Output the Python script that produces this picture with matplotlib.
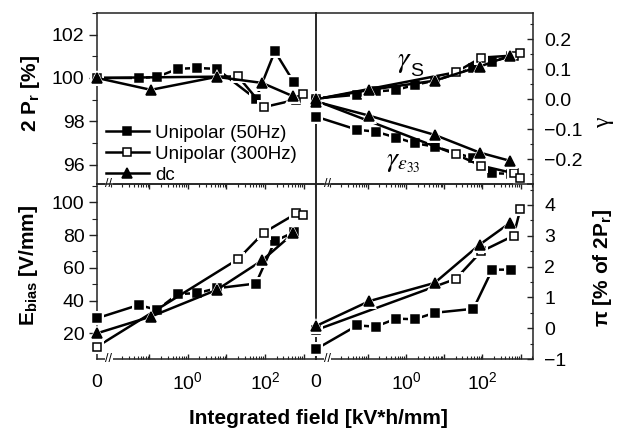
import numpy as np
import matplotlib
matplotlib.use('Agg')
import matplotlib.pyplot as plt
import matplotlib.transforms as mtransforms
from matplotlib.lines import Line2D
from matplotlib.ticker import FixedLocator, FuncFormatter, MultipleLocator

plt.rcParams['font.family'] = ['Liberation Sans', 'DejaVu Sans']
plt.rcParams['mathtext.fontset'] = 'custom'
plt.rcParams['mathtext.rm'] = 'Liberation Sans'
plt.rcParams['mathtext.it'] = 'Liberation Sans:italic'
plt.rcParams['mathtext.bf'] = 'Liberation Sans:bold'
plt.rcParams['mathtext.sf'] = 'Liberation Sans'

# integrated field [kV*h/mm], 0 = virgin state
x_50 = [0, 0.053, 0.16, 0.55, 1.7, 5.6, 58, 180, 560]
x_300 = [0, 20, 93, 650, 980]
x_dc = [0, 0.11, 5.6, 84, 540]

# 2 Pr [%]
pr_50 = [100.0, 100.0, 100.05, 100.42, 100.46, 100.42, 99.03, 101.23, 99.8]
pr_300 = [100.0, 100.07, 98.65, 99.0, 99.25]
pr_dc = [100.0, 99.45, 100.05, 99.77, 99.15]

# gamma_S and gamma_eps33
gs_50 = [0.003, 0.015, 0.026, 0.031, 0.048, 0.062, 0.104, 0.126, 0.143]
gs_300 = [0.0, 0.090, 0.139, 0.146, 0.154]
gs_dc = [0.0, 0.031, 0.062, 0.109, 0.146]
ge_50 = [-0.058, -0.102, -0.108, -0.128, -0.147, -0.158, -0.197, -0.247, -0.249]
ge_300 = [-0.005, -0.184, -0.222, -0.247, -0.262]
ge_dc = [-0.008, -0.055, -0.119, -0.178, -0.206]

# E_bias [V/mm]
eb_50 = [29.2, 37.3, 34.3, 44.0, 44.5, 47.5, 50.4, 76.3, 81.8]
eb_300 = [11.8, 65.3, 81.5, 93.2, 92.4]
eb_dc = [20.0, 30.2, 46.5, 64.5, 81.0]

# pi [% of 2Pr]
pi_50 = [-0.68, 0.09, 0.05, 0.31, 0.29, 0.50, 0.63, 1.90, 1.90]
pi_300 = [-0.06, 1.60, 2.49, 3.0, 3.86]
pi_dc = [0.07, 0.88, 1.47, 2.71, 3.43]

labels = ['Unipolar (50Hz)', 'Unipolar (300Hz)', 'dc']
styles = [dict(marker='s', ms=6, mfc='black'),
          dict(marker='s', ms=6, mfc='white'),
          dict(marker='^', ms=7.5, mfc='black')]

LW = 1.8
FS = 14

fig = plt.figure(figsize=(6.19, 4.33), dpi=100)
W, H = 619, 433


def px_axes(x0, y0, x1, y1):
    return fig.add_axes([x0 / W, 1 - y1 / H, (x1 - x0) / W, (y1 - y0) / H])


ax_pr = px_axes(97, 13, 316, 184)
ax_g = px_axes(316, 13, 533, 184)
ax_eb = px_axes(97, 184, 316, 359)
ax_pi = px_axes(316, 184, 533, 359)


def draw_series(ax, x, y, i, z0):
    st = styles[i]
    ax.plot(x, y, '-', color='black', lw=LW, zorder=z0, clip_on=False)
    # white halo so the line stops short of each symbol
    ax.plot(x, y, ls='none', marker=st['marker'], ms=st['ms'] + 4.5,
            mfc='white', mec='white', mew=0, zorder=z0 + 1, clip_on=False)
    ax.plot(x, y, ls='none', marker=st['marker'], ms=st['ms'],
            mfc=st['mfc'], mec='black', mew=1.1, zorder=z0 + 2, clip_on=False)


major_x = [0.1, 1, 10, 100, 1000]
minor_x = [k * 10.0 ** d for d in range(-2, 4) for k in range(1, 10)]
minor_x = [v for v in minor_x if v < 2100 and v not in major_x]


def xfmt(v, p):
    if abs(v - 1) < 1e-9:
        return r'$\mathregular{10^0}$'
    if abs(v - 100) < 1e-6:
        return r'$\mathregular{10^2}$'
    return ''


def setup_x(ax, is_bottom):
    ax.set_xscale('symlog', linthresh=0.01, linscale=0.32)
    ax.set_xlim(0, 2100)
    ax.xaxis.set_major_locator(FixedLocator(major_x))
    ax.xaxis.set_minor_locator(FixedLocator(minor_x))
    ax.set_facecolor('none')
    for s in ax.spines.values():
        s.set_linewidth(1.1)
        s.set_color('#222222')
    tr = mtransforms.blended_transform_factory(ax.transData, ax.transAxes)
    if is_bottom:
        ax.xaxis.set_major_formatter(FuncFormatter(xfmt))
        ax.tick_params(axis='x', which='both', direction='in', top=True, bottom=True,
                       labelsize=FS, pad=9, color='#222222')
        ax.tick_params(axis='x', which='major', length=3.5, width=1)
        ax.tick_params(axis='x', which='minor', length=2, width=0.8)
        # the "0" label at the left edge
        ax.text(0, -0.085, '0', transform=tr, ha='center', va='top', fontsize=FS)
    else:
        ax.tick_params(axis='x', which='both', bottom=False, top=False, labelbottom=False)
    # axis break mark
    ax.text(0.0085, 0, '//', transform=tr, ha='center', va='center', fontsize=9,
            bbox=dict(facecolor='white', edgecolor='none', pad=0.3), zorder=10, clip_on=False)


def setup_y(ax, right):
    if right:
        ax.yaxis.tick_right()
        ax.tick_params(axis='y', which='both', direction='in', left=False, right=True,
                       labelsize=FS, pad=8, color='#222222')
        ax.tick_params(axis='y', which='major', length=4.5, width=1)
        ax.tick_params(axis='y', which='minor', length=2.5, width=0.8)
    else:
        ax.tick_params(axis='y', which='both', direction='out', left=True, right=False,
                       labelsize=FS, pad=3, color='#222222')
        ax.tick_params(axis='y', which='major', length=6, width=1)
        ax.tick_params(axis='y', which='minor', length=3.5, width=0.8)


# top-left: 2 Pr
for i, (x, y) in enumerate([(x_50, pr_50), (x_300, pr_300), (x_dc, pr_dc)]):
    draw_series(ax_pr, x, y, i, 3 + 3 * i)
ax_pr.set_ylim(95.1, 103)
ax_pr.yaxis.set_major_locator(FixedLocator([96, 98, 100, 102]))
ax_pr.yaxis.set_minor_locator(MultipleLocator(1))
setup_x(ax_pr, False)
setup_y(ax_pr, False)

handles = [Line2D([], [], color='black', lw=LW, marker=st['marker'], ms=st['ms'],
                  mfc=st['mfc'], mec='black', mew=1.1) for st in styles]
leg = ax_pr.legend(handles, labels, loc='lower left', bbox_to_anchor=(0.04, 0.0),
                   frameon=False, fontsize=13.5, handlelength=2.3, handletextpad=0.35,
                   labelspacing=0.22, borderpad=0, borderaxespad=0, numpoints=1)
leg.set_zorder(20)

# top-right: gamma
for i, (x, y) in enumerate([(x_50, gs_50), (x_300, gs_300), (x_dc, gs_dc)]):
    draw_series(ax_g, x, y, i, 3 + 3 * i)
for i, (x, y) in enumerate([(x_50, ge_50), (x_300, ge_300), (x_dc, ge_dc)]):
    draw_series(ax_g, x, y, i, 3 + 3 * i)
ax_g.set_ylim(-0.283, 0.288)
ax_g.yaxis.set_major_locator(FixedLocator([-0.2, -0.1, 0.0, 0.1, 0.2]))
ax_g.yaxis.set_minor_locator(MultipleLocator(0.05))
ax_g.yaxis.set_major_formatter(FuncFormatter(lambda v, p: f'{v:.1f}'.replace('-', '\u2212')))
setup_x(ax_g, False)
setup_y(ax_g, True)
ax_g.text(0.405, 0.72, r'$\gamma$', transform=ax_g.transAxes, fontsize=21,
          math_fontfamily='stix', ha='center', va='center')
ax_g.text(0.462, 0.66, 'S', transform=ax_g.transAxes, fontsize=14,
          ha='center', va='center')
ax_g.text(0.40, 0.13, r'$\gamma_{\varepsilon_{33}}$', transform=ax_g.transAxes, fontsize=20,
          math_fontfamily='stix', ha='center', va='center')

# bottom-left: E_bias
for i, (x, y) in enumerate([(x_50, eb_50), (x_300, eb_300), (x_dc, eb_dc)]):
    draw_series(ax_eb, x, y, i, 3 + 3 * i)
ax_eb.set_ylim(4.3, 111.2)
ax_eb.yaxis.set_major_locator(FixedLocator([20, 40, 60, 80, 100]))
ax_eb.yaxis.set_minor_locator(MultipleLocator(10))
setup_x(ax_eb, True)
setup_y(ax_eb, False)

# bottom-right: pi
for i, (x, y) in enumerate([(x_50, pi_50), (x_300, pi_300), (x_dc, pi_dc)]):
    draw_series(ax_pi, x, y, i, 3 + 3 * i)
ax_pi.set_ylim(-1.0, 4.68)
ax_pi.yaxis.set_major_locator(FixedLocator([-1, 0, 1, 2, 3, 4]))
ax_pi.yaxis.set_minor_locator(MultipleLocator(0.5))
ax_pi.yaxis.set_major_formatter(FuncFormatter(lambda v, p: f'{v:.0f}'.replace('-', '\u2212')))
setup_x(ax_pi, True)
setup_y(ax_pi, True)

# axis titles
fig.text(30 / W, 1 - 94 / H, r'2 P$_\mathbf{r}$ [%]', rotation=90, ha='center', va='center',
         fontsize=15, fontweight='bold')
fig.text(28 / W, 1 - 265 / H, r'E$_\mathbf{bias}$ [V/mm]', rotation=90, ha='center', va='center',
         fontsize=15, fontweight='bold')
fig.text(604 / W, 1 - 123 / H, 'γ', rotation=90, ha='center', va='center',
         fontsize=17, family=['Liberation Serif', 'DejaVu Serif'])
fig.text(603 / W, 1 - 268 / H, r'π [% of 2P$_\mathbf{r}$]', rotation=90, ha='center', va='center',
         fontsize=15, fontweight='bold')
fig.text(318 / W, 1 - 418 / H, 'Integrated field [kV*h/mm]', ha='center', va='center',
         fontsize=15, fontweight='bold')

fig.savefig('out.png', dpi=100)
